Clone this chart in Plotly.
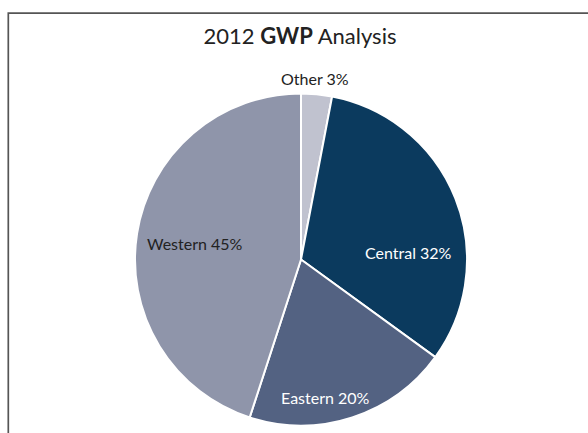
import plotly.graph_objects as go

labels = ["Other", "Central", "Eastern", "Western"]
values = [3, 32, 20, 45]
colors = ["#c0c2cf", "#0b3a5e", "#536282", "#8f95aa"]
text_colors = ["#222222", "#ffffff", "#ffffff", "#222222"]

W, H = 588, 433
cx, cy, r = 301, 259.5, 166
# label anchor positions in pixels (x, y from top), as placed in the reference
label_px = [(315, 79), (408, 252), (325, 397), (195, 243)]

fig = go.Figure(go.Pie(
    labels=labels,
    values=values,
    sort=False,
    direction="clockwise",
    rotation=0,
    marker=dict(colors=colors, line=dict(color="#ffffff", width=2)),
    textinfo="none",
    showlegend=False,
    hoverinfo="label+value",
    domain=dict(x=[(cx - r) / W, (cx + r) / W],
                y=[(H - cy - r) / H, (H - cy + r) / H]),
))

annotations = []
for lab, val, tc, (px, py) in zip(labels, values, text_colors, label_px):
    annotations.append(dict(
        text=f"{lab} {val}%", x=px / W, y=1 - py / H, xref="paper", yref="paper",
        xanchor="center", yanchor="middle", showarrow=False,
        font=dict(family="Lato", size=16, color=tc)))

fig.update_layout(
    width=W, height=H,
    margin=dict(l=0, r=0, t=0, b=0),
    paper_bgcolor="#ffffff",
    plot_bgcolor="#ffffff",
    title=dict(text="2012 <b>GWP</b> Analysis", x=300 / W, xanchor="center",
               y=1 - 36 / H, yanchor="middle",
               font=dict(family="Lato", size=22, color="#222222")),
    annotations=annotations,
    shapes=[dict(type="rect", xref="paper", yref="paper",
                 x0=8.3 / W, x1=1.05, y0=-0.05, y1=1 - 13.2 / H,
                 line=dict(color="#555555", width=1.7))],
)

fig.write_html("out.html")
